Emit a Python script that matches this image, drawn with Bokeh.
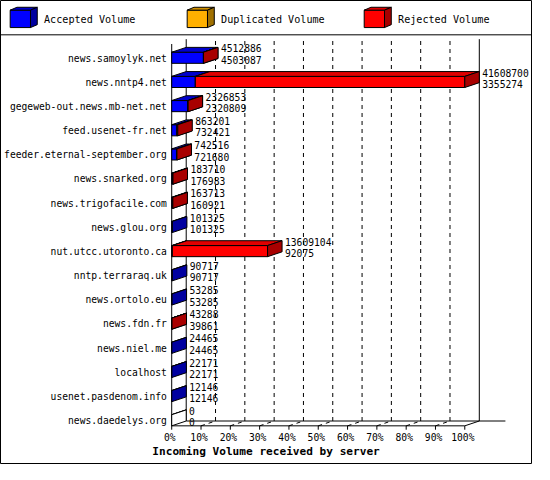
from bokeh.plotting import figure
from bokeh.models import Range1d
from bokeh.core.properties import value
from bokeh.embed import file_html
from bokeh.resources import INLINE

# incoming volume per feeding server: total received and the accepted part
servers = ["news.samoylyk.net", "news.nntp4.net", "gegeweb-out.news.mb-net.net",
           "feed.usenet-fr.net", "feeder.eternal-september.org", "news.snarked.org",
           "news.trigofacile.com", "news.glou.org", "nut.utcc.utoronto.ca",
           "nntp.terraraq.uk", "news.ortolo.eu", "news.fdn.fr", "news.niel.me",
           "localhost", "usenet.pasdenom.info", "news.daedelys.org"]
total = [4512886, 41608700, 2326853, 863201, 742516, 183710, 163713, 101325,
         13609104, 90717, 53285, 43288, 24465, 22171, 12146, 0]
accepted = [4503087, 3355274, 2320809, 732421, 721680, 176983, 160921, 101325,
            92075, 90717, 53285, 39861, 24465, 22171, 12146, 0]
pct_ticks = [0, 10, 20, 30, 40, 50, 60, 70, 80, 90, 100]
legend_names = ["Accepted Volume", "Duplicated Volume", "Rejected Volume"]
x_title = "Incoming Volume received by server"

# colours: front, top, side
BLUE = ("#0000ff", "#0000cc", "#0000a0")
ORANGE = ("#ffb000", "#d09000", "#a07000")
RED = ("#ff0000", "#e00000", "#a80000")
WHITE = ("white", "white", "white")

# layout of the original 550x480 image, scaled to fit the window
W, H = 550, 480
S = 0.967
X_ZERO, X_FULL = 177, 480      # px of 0% and 100%
ROW_TOP, ROW_STEP = 59.5, 25   # px of first row, row spacing
DX_PX, DY_PX = 15, 5           # 3d depth
FONT = "DejaVu Sans Mono"

vmax = max(total)
upx = vmax / (X_FULL - X_ZERO)   # volume units per px


def px(x):
    return (x - X_ZERO) * upx


def py(y):
    return (y - ROW_TOP) / ROW_STEP


def fs(size):
    return "%.2fpx" % (size * S)


dx = DX_PX * upx
dy = -DY_PX / ROW_STEP
up = 6 / ROW_STEP
down = 5.5 / ROW_STEP

p = figure(width=round(W * S), height=round(H * S),
           x_range=Range1d(px(0), px(W)), y_range=Range1d(py(H), py(0)),
           x_axis_location=None, y_axis_location=None,
           output_backend="svg", toolbar_location=None, min_border=0)
p.grid.visible = False
p.outline_line_color = "black"
p.background_fill_color = "white"
p.border_fill_color = "white"

# walls and floor
n = len(servers)
floor_front = (n - 1) + down
floor_back = floor_front + dy
wall_top = py(40)
grid_x = [t * vmax / 100 + dx for t in pct_ticks[1:-1]]
p.segment(x0=grid_x, y0=floor_back, x1=grid_x, y1=wall_top,
          line_color="black", line_dash="4 4", line_width=1)
fl_x0 = [t * vmax / 100 for t in pct_ticks[1:-1]]
fl_x1 = [x + dx for x in fl_x0]
p.segment(x0=fl_x0, y0=floor_front, x1=fl_x1, y1=floor_back,
          line_color="black", line_dash="4 4", line_width=1)
p.segment(x0=[dx, vmax + dx, 0, 0, dx, vmax],
          y0=[floor_back, floor_back, wall_top - dy, floor_front, floor_back, floor_front],
          x1=[dx, vmax + dx, 0, vmax, vmax + dx + 27 * upx, vmax + dx],
          y1=[wall_top, wall_top, floor_front, floor_front, floor_back, floor_back],
          line_color="black", line_width=1)
tick_x = [t * vmax / 100 for t in pct_ticks]
p.segment(x0=tick_x, y0=floor_front, x1=tick_x, y1=floor_front + 4 / ROW_STEP,
          line_color="black", line_width=1)

# 3d bars
xs, ys, fills = [], [], []


def box(a, b, top, bot, cols, ddx, ddy):
    xs.append([a, b, b, a]); ys.append([top, top, bot, bot]); fills.append(cols[0])
    xs.append([a, b, b + ddx, a + ddx]); ys.append([top, top, top + ddy, top + ddy]); fills.append(cols[1])
    xs.append([b, b + ddx, b + ddx, b]); ys.append([top, top + ddy, bot + ddy, bot]); fills.append(cols[2])


for i, (tot, acc) in enumerate(zip(total, accepted)):
    if acc > 0:
        box(0, acc, i - up, i + down, BLUE, dx, dy)
    if tot - acc > 0:
        box(acc, tot, i - up, i + down, RED, dx, dy)
    if tot == 0:
        box(0, 0, i - up, i + down, WHITE, dx, dy)

# legend boxes
leg_cols = [BLUE, ORANGE, RED]
leg_x = [10, 193, 376]
for lx, cols in zip(leg_x, leg_cols):
    box(px(lx), px(lx + 21), py(10), py(28), cols, 7 * upx, -3 / ROW_STEP)

p.patches(xs=xs, ys=ys, fill_color=fills, line_color="black", line_width=1)

p.segment(x0=[px(0)], y0=[py(35.5)], x1=[px(W)], y1=[py(35.5)],
          line_color="black", line_width=1)
p.text(x=[px(lx + 35) for lx in leg_x], y=py(20), text=legend_names,
       text_font=value(FONT), text_font_size=fs(10.5), text_baseline="middle",
       text_align="left", text_color="black")

# labels
rows = list(range(n))
p.text(x=px(X_ZERO - 5), y=rows, text=servers, text_font=value(FONT),
       text_font_size=fs(10), text_align="right", text_baseline="middle",
       text_color="black")
lab_x = [t + dx + 3 * upx for t in total]
p.text(x=lab_x, y=[r - 10 / ROW_STEP for r in rows], text=[str(t) for t in total],
       text_font=value(FONT), text_font_size=fs(10), text_baseline="middle",
       text_color="black")
p.text(x=lab_x, y=[r + 2 / ROW_STEP for r in rows], text=[str(a) for a in accepted],
       text_font=value(FONT), text_font_size=fs(10), text_baseline="middle",
       text_color="black")
p.text(x=[x - 2 * upx for x in tick_x], y=floor_front + 12 / ROW_STEP,
       text=["%d%%" % t for t in pct_ticks], text_font=value(FONT),
       text_font_size=fs(10), text_align="center", text_baseline="middle",
       text_color="black")
p.text(x=[px(157)], y=[py(467)], text=[x_title], text_font=value(FONT),
       text_font_size=fs(11.5), text_font_style="bold", text_baseline="middle",
       text_color="black")

open("out.html", "w").write(file_html(p, INLINE))
